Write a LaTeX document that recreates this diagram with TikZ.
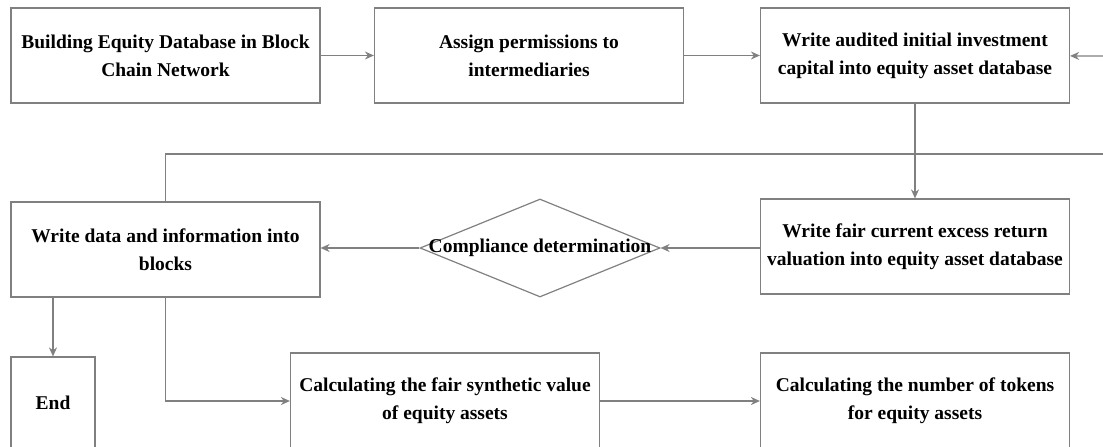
\documentclass[tikz,border=0pt]{standalone}
\usepackage{fontspec}
\setmainfont{Liberation Serif}
\usetikzlibrary{positioning,arrows.meta,shapes.geometric}

\begin{document}
\begin{tikzpicture}[x=1pt,y=-1pt,
    box/.style={rectangle,draw=black!50,line width=1.2pt,minimum width=309pt,
                minimum height=95pt,inner sep=0pt,align=center,
                font=\fontsize{19.5}{28}\selectfont\bfseries},
    arrow/.style={-{Stealth[length=9pt,width=8pt]},draw=black!50,line width=1.2pt},
    link/.style={draw=black!50,line width=1.2pt}
]
\useasboundingbox (0,0) rectangle (1103,447);
\clip (0,0) rectangle (1103,447);

\node[box] (build)  at (165.5,55.5) {Building Equity Database in Block\\Chain Network};
\node[box] (assign) at (529,55.5)   {Assign permissions to\\intermediaries};
\node[box] (audit)  at (915,55.5)   {Write audited initial investment\\capital into equity asset database};
\node[box] (fair)   at (915,246.5)  {Write fair current excess return\\valuation into equity asset database};
\node[box] (blocks) at (165.5,249.5) {Write data and information into\\blocks};
\node[box,minimum width=84pt,minimum height=92pt] (end) at (53,403) {End};
\node[box,minimum height=96pt] (synth)  at (445,401) {Calculating the fair synthetic value\\of equity assets};
\node[box,minimum height=96pt] (tokens) at (915,401) {Calculating the number of tokens\\for equity assets};
\node[diamond,draw=black!50,line width=1.2pt,minimum width=240pt,minimum height=98pt,
      inner sep=0pt] (check) at (540,248) {};
\node[font=\fontsize{19.5}{28}\selectfont\bfseries] (checktxt) at (check) {Compliance determination};

\coordinate (inR)  at (1103,56);
\coordinate (outR) at (1103,154);

\draw[arrow] (build) -- (assign);
\draw[arrow] (assign) -- (audit);
\draw[arrow] (inR) -- (audit);
\draw[arrow] (audit) -- (fair);
\draw[link] (outR) -| (blocks);
\draw[arrow] (fair.west |- check) -- (check.east);
\draw[arrow] (check.west) -- (check.west -| blocks.east);
\draw[arrow] (end.north |- blocks.south) -- (end);
\draw[arrow] (blocks.south) |- (synth);
\draw[arrow] (synth) -- (tokens);
\end{tikzpicture}
\end{document}
